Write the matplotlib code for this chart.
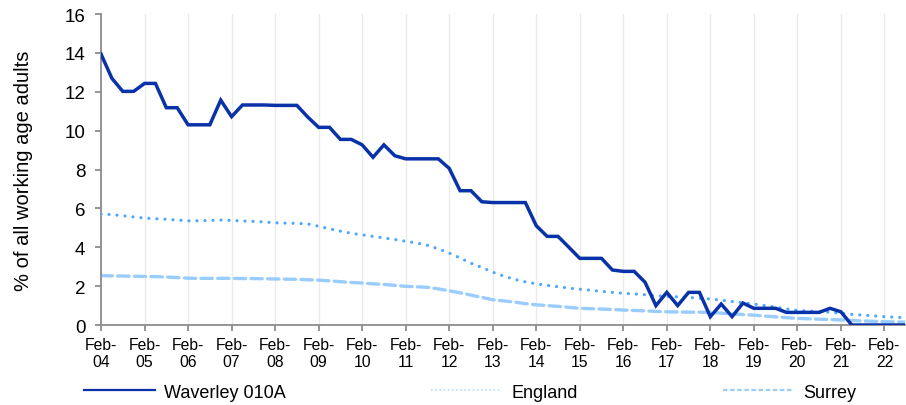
import matplotlib
matplotlib.use("Agg")
import matplotlib.pyplot as plt
from matplotlib.lines import Line2D

plt.rcParams["font.family"] = ["Liberation Sans", "DejaVu Sans"]

# Dati trimestrali: Feb-04 ... Aug-22 (Feb, May, Aug, Nov)
years = ["04", "05", "06", "07", "08", "09", "10", "11", "12", "13",
         "14", "15", "16", "17", "18", "19", "20", "21", "22"]
tick_labels = [f"Feb-\n{y}" for y in years]

waverley = [
    13.94, 12.69, 12.02, 12.02,
    12.43, 12.43, 11.18, 11.18,
    10.30, 10.30, 10.30, 11.57,
    10.72, 11.32, 11.32, 11.32,
    11.30, 11.30, 11.30, 10.70,
    10.17, 10.17, 9.55, 9.55,
    9.27, 8.63, 9.27, 8.71,
    8.55, 8.55, 8.55, 8.55,
    8.06, 6.91, 6.91, 6.34,
    6.30, 6.30, 6.30, 6.30,
    5.11, 4.56, 4.56, 4.00,
    3.43, 3.43, 3.43, 2.83,
    2.76, 2.76, 2.20, 1.00,
    1.68, 1.00, 1.68, 1.68,
    0.43, 1.08, 0.43, 1.13,
    0.86, 0.86, 0.86, 0.65,
    0.65, 0.65, 0.65, 0.86,
    0.68, 0.00, 0.00, 0.00,
    0.00, 0.00, 0.00,
]

england = [
    5.71, 5.68, 5.62, 5.56,
    5.50, 5.47, 5.44, 5.40,
    5.36, 5.36, 5.38, 5.40,
    5.38, 5.35, 5.33, 5.30,
    5.26, 5.24, 5.23, 5.20,
    5.08, 4.95, 4.83, 4.72,
    4.64, 4.56, 4.48, 4.40,
    4.31, 4.22, 4.10, 3.92,
    3.70, 3.45, 3.18, 2.96,
    2.72, 2.52, 2.35, 2.22,
    2.12, 2.04, 1.97, 1.90,
    1.84, 1.79, 1.73, 1.68,
    1.63, 1.60, 1.56, 1.51,
    1.47, 1.45, 1.42, 1.38,
    1.34, 1.28, 1.21, 1.15,
    1.08, 1.00, 0.92, 0.83,
    0.75, 0.72, 0.69, 0.66,
    0.60, 0.55, 0.51, 0.47,
    0.43, 0.40, 0.37,
]

surrey = [
    2.54, 2.53, 2.52, 2.51,
    2.50, 2.49, 2.47, 2.44,
    2.41, 2.40, 2.40, 2.40,
    2.40, 2.39, 2.39, 2.38,
    2.37, 2.36, 2.35, 2.33,
    2.31, 2.27, 2.23, 2.19,
    2.16, 2.12, 2.09, 2.04,
    1.99, 1.97, 1.94, 1.86,
    1.76, 1.66, 1.54, 1.42,
    1.30, 1.24, 1.18, 1.10,
    1.04, 1.00, 0.96, 0.91,
    0.86, 0.84, 0.82, 0.80,
    0.77, 0.75, 0.73, 0.70,
    0.68, 0.67, 0.66, 0.66,
    0.65, 0.61, 0.57, 0.54,
    0.51, 0.46, 0.42, 0.38,
    0.34, 0.32, 0.30, 0.28,
    0.26, 0.23, 0.21, 0.19,
    0.17, 0.16, 0.15,
]

c_wav = "#0A32A8"
c_eng = "#4DA6FF"
c_sur = "#99CCFF"
c_axis = "#8C8C8C"

x = list(range(len(waverley)))

fig = plt.figure(figsize=(9.06, 4.06), dpi=100)
ax = fig.add_axes([0.1115, 0.197, 0.8875, 0.766])

# Griglia verticale
for t in range(0, len(x), 4):
    ax.axvline(t, color="#EBEBEB", linewidth=1, zorder=0)

ax.plot(x, surrey, color=c_sur, linewidth=2.4, dashes=(3.4, 1.6),
        dash_capstyle="round", zorder=2)
ax.plot(x, england, color=c_eng, linewidth=2.3, dashes=(0.01, 2.5),
        dash_capstyle="round", zorder=3)
ax.plot(x, waverley, color=c_wav, linewidth=2.5, solid_joinstyle="miter", zorder=4)

ax.set_xlim(0, 73.9)
ax.set_ylim(0, 16)
ax.set_yticks(range(0, 17, 2))
ax.set_xticks(range(0, len(x), 4))
ax.set_xticklabels(tick_labels)

for side in ["top", "right"]:
    ax.spines[side].set_visible(False)
for side in ["left", "bottom"]:
    ax.spines[side].set_color(c_axis)
    ax.spines[side].set_linewidth(1.3)

ax.tick_params(axis="both", colors=c_axis, labelcolor="black",
               length=4.3, width=1.3)
ax.tick_params(axis="y", pad=7, labelsize=13.5)
ax.tick_params(axis="x", pad=4, labelsize=11.3)

ax.set_ylabel("% of all working age adults", fontsize=14.5)
ax.yaxis.set_label_coords(-0.0845, 0.5)

handles = [
    Line2D([], [], color=c_wav, linewidth=1.6),
    Line2D([], [], color="#B8DCFF", linewidth=1.2, dashes=(1, 1.5)),
    Line2D([], [], color=c_sur, linewidth=1.6, dashes=(2, 1.2)),
]
fig.legend(handles, ["Waverley 010A", "England", "Surrey"],
           loc="center left", bbox_to_anchor=(0.0927, 0.032), ncol=3,
           frameon=False, fontsize=13, handlelength=3.93,
           handletextpad=0.5, columnspacing=8.05, borderpad=0,
           borderaxespad=0)

fig.savefig("out.png", dpi=100)
